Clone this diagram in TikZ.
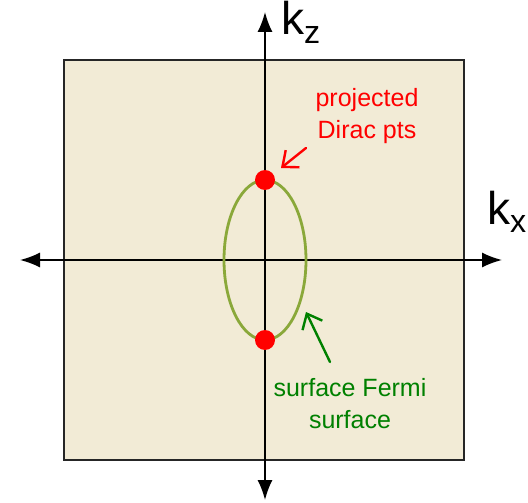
\documentclass[tikz,border=0pt]{standalone}
\usepackage{fontspec}
\setmainfont{Liberation Sans}
\usetikzlibrary{arrows.meta}
\definecolor{bzfill}{HTML}{F2EBD6}
\definecolor{fsgreen}{HTML}{8AA83A}
\definecolor{lblgreen}{HTML}{008000}
\definecolor{lblred}{HTML}{FF0000}
\tikzset{
  axis/.style={line width=1.6pt, black, -{Latex[length=20pt,width=15pt]}},
  note/.style={font=\fontsize{25}{32}\selectfont, align=center, inner sep=0pt},
  pointer/.style={line width=2.4pt, line cap=round, -{Straight Barb[length=13pt,width=22pt,line width=2.4pt]}},
  klabel/.style={font=\fontsize{46}{48}\selectfont, inner sep=0pt}
}
\begin{document}
\begin{tikzpicture}[x=1pt,y=-1pt]
\useasboundingbox (0,0) rectangle (528,503);
\draw[fill=bzfill, line width=2.6pt, draw=black!85] (64,60) rectangle (464,460);
\coordinate (xl) at (20,260);
\coordinate (xr) at (502,260);
\coordinate (zb) at (265,500);
\coordinate (zt) at (265,12);
\draw[axis] (265,260) -- (xl);
\draw[axis] (265,260) -- (xr);
\draw[axis] (265,260) -- (zb);
\draw[axis] (265,260) -- (zt);
\draw[fsgreen, line width=2.8pt] (265,260) ellipse [x radius=41, y radius=80];
\node[circle, fill=lblred, minimum size=20pt, inner sep=0pt] (d1) at (265,180) {};
\node[circle, fill=lblred, minimum size=20pt, inner sep=0pt] (d2) at (265,340) {};
\node[klabel, anchor=base west] (kz) at (281,35) {k\textsubscript{z}};
\node[klabel, anchor=base west] (kx) at (487,224) {k\textsubscript{x}};
\node[note, text=lblred] (dirac) at (367,116) {projected\\Dirac pts};
\node[note, text=lblgreen] (fermi) at (350,404) {surface Fermi\\surface};
\coordinate (a1) at (306,148);
\coordinate (t1) at (281,168);
\coordinate (a2) at (330,362);
\coordinate (t2) at (306,312);
\draw[pointer, lblred] (a1) -- (t1);
\draw[pointer, lblgreen] (a2) -- (t2);
\end{tikzpicture}
\end{document}
